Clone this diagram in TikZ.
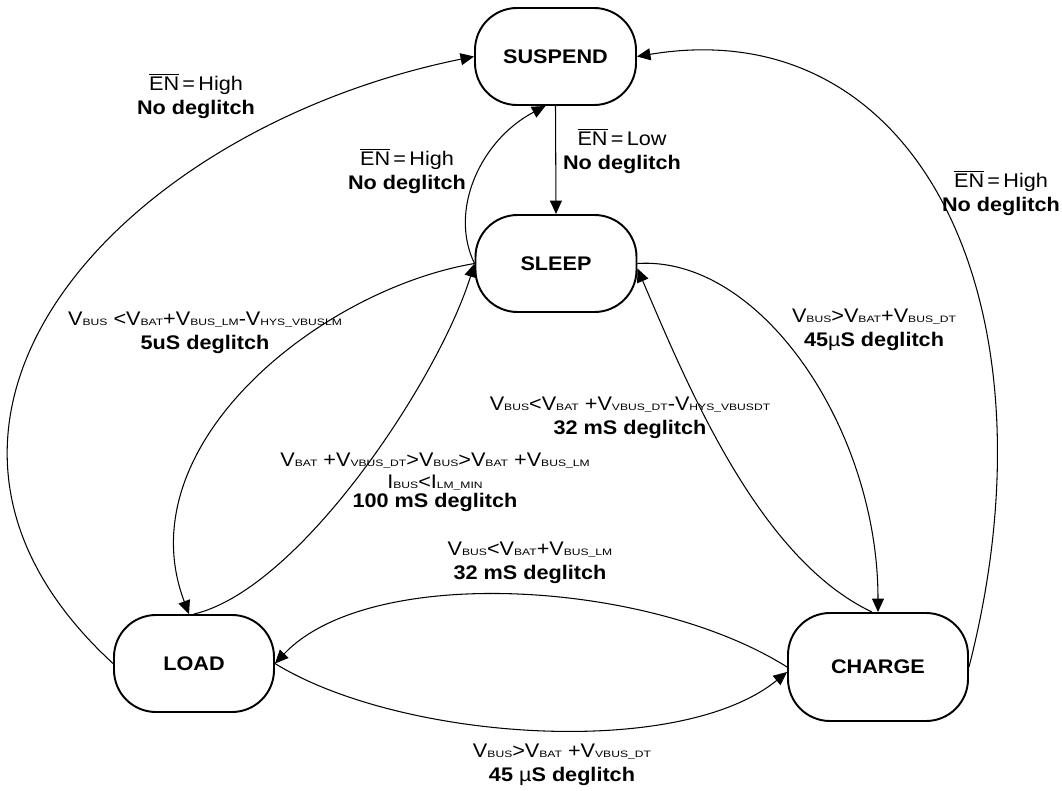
\documentclass[tikz,border=0pt]{standalone}
\usepackage{fontspec}
\usepackage{amsmath}
\usetikzlibrary{arrows.meta}

\setmainfont{Liberation Sans}[FakeStretch=1.1]
\newfontfamily\subfnt{Liberation Sans}[FakeStretch=1.3]

\newcommand{\lblfont}{\fontsize{11.2}{13.7}\selectfont}
\newcommand{\sbs}[1]{{\subfnt\fontsize{5.3}{6}\selectfont #1}}
\newcommand{\enbar}{$\overline{\mbox{EN}}$}

\tikzset{
    state/.style={draw, line width=1.1pt, rounded corners=0.84cm,
        minimum width=3.2cm, minimum height=1.94cm, inner sep=0pt,
        font=\lblfont\bfseries},
    trans/.style={-{Triangle[length=0.27cm,width=0.24cm]}, line width=0.6pt},
    cond/.style={align=center, inner sep=0pt}
}

\begin{document}
\begin{tikzpicture}[font=\lblfont]

    \useasboundingbox (0,0) rectangle (21.24,-15.82);

    % Draw the states
    \node[state, minimum width=3.22cm] (suspend) at (11.11,-1.13) {SUSPEND};
    \node[state, minimum width=3.22cm] (sleep) at (11.12,-5.27) {SLEEP};
    \node[state] (load) at (3.88,-13.27) {LOAD};
    \node[state, minimum width=3.6cm, minimum height=2.16cm] (charge) at (17.56,-13.34) {CHARGE};

    % Draw the transitions into SUSPEND
    \draw[trans] (sleep.west) .. controls +(-0.52,1.06) and +(-1.3,-0.68) .. ([xshift=-0.2cm]suspend.south);
    \draw[trans] (load.west) .. controls +(-5.26,4.84) and +(-7.1,-1.44) .. (suspend.west);
    \draw[trans] (charge.east) .. controls +(1.86,7.24) and +(5.66,0.94) .. (suspend.east);

    % Draw the transitions out of SUSPEND and SLEEP
    \draw[trans] (suspend.south) -- (sleep.north);
    \draw[trans] (sleep.west) .. controls +(-3.08,-0.52) and +(-1.28,3.38) .. ([xshift=-0.1cm]load.north);
    \draw[trans] (sleep.east) .. controls +(2.46,0.16) and +(0,3.66) .. (charge.north);

    % Draw the transitions back to SLEEP
    \draw[trans] (load.north) .. controls +(2.12,0.5) and +(-0.72,-2.32) .. (sleep.west);
    \draw[trans] ([xshift=-0.12cm]charge.north) .. controls +(-2.24,1.06) and +(1.04,-2.44) .. ([yshift=-0.1cm]sleep.east);

    % Draw the transitions between LOAD and CHARGE
    \draw[trans] (charge.west) .. controls +(-2.76,1.74) and +(1.9,2.0) .. (load.east);
    \draw[trans] (load.east) .. controls +(2.5,-1.54) and +(-2.16,-1.76) .. ([yshift=-0.1cm]charge.west);

    % Draw the conditions
    \node[cond] (enload) at (3.92,-1.92) {\enbar\,=\,High\\\textbf{No deglitch}};
    \node[cond] (ensleep) at (8.14,-3.42) {\enbar\,=\,High\\\textbf{No deglitch}};
    \node[cond] (enlow) at (12.44,-3.02) {\enbar\,=\,Low\\\textbf{No deglitch}};
    \node[cond] (encharge) at (20.02,-3.86) {\enbar\,=\,High\\\textbf{No deglitch}};
    \node[cond] (toload) at (4.1,-6.66) {V\sbs{BUS} <V\sbs{BAT}+V\sbs{BUS\_LM}-V\sbs{HYS\_VBUSLM}\\\textbf{5uS deglitch}};
    \node[cond] (tocharge) at (17.48,-6.6) {V\sbs{BUS}>V\sbs{BAT}+V\sbs{BUS\_DT}\\{\bfseries 45{\mdseries µ}S deglitch}};
    \node[cond] (chgsleep) at (12.6,-8.36) {V\sbs{BUS}<V\sbs{BAT} +V\sbs{VBUS\_DT}-V\sbs{HYS\_VBUSDT}\\\textbf{32 mS deglitch}};
    \node[cond] (loadsleep) at (8.7,-9.64) {V\sbs{BAT} +V\sbs{VBUS\_DT}>V\sbs{BUS}>V\sbs{BAT} +V\sbs{BUS\_LM}\\[-1pt]I\sbs{BUS}<I\sbs{LM\_MIN}\\[-3pt]\textbf{100 mS deglitch}};
    \node[cond] (chgload) at (10.6,-11.26) {V\sbs{BUS}<V\sbs{BAT}+V\sbs{BUS\_LM}\\\textbf{32 mS deglitch}};
    \node[cond] (loadchg) at (11.24,-15.3) {V\sbs{BUS}>V\sbs{BAT} +V\sbs{VBUS\_DT}\\{\bfseries 45 {\mdseries µ}S deglitch}};

\end{tikzpicture}
\end{document}
